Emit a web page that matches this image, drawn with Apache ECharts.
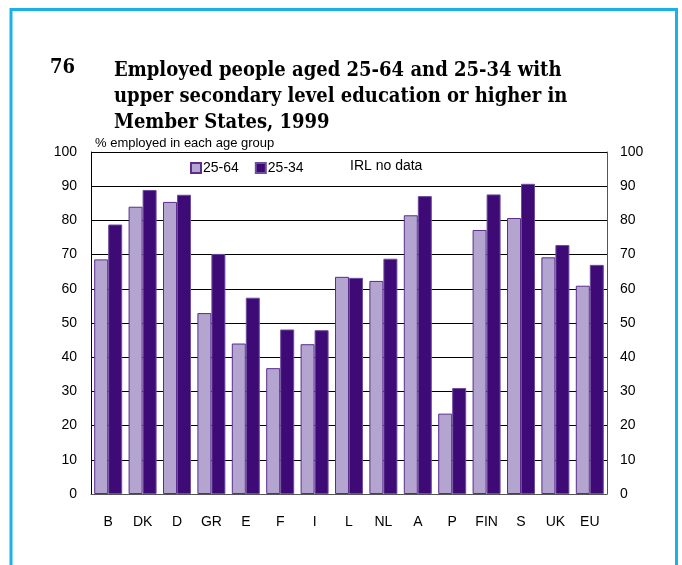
<!DOCTYPE html>
<html>
<head>
<meta charset="utf-8">
<script src="https://cdn.jsdelivr.net/npm/echarts@6/dist/echarts.min.js"></script>
<style>
html,body{margin:0;padding:0;background:#fff;}
#chart{width:682px;height:565px;}
</style>
</head>
<body>
<div id="chart"></div>
<script>
const categories = ['B','DK','D','GR','E','F','I','L','NL','A','P','FIN','S','UK','EU'];
const age2564 = [68.6, 84.0, 85.4, 52.9, 44.0, 36.8, 43.8, 63.5, 62.3, 81.5, 23.5, 77.2, 80.7, 69.2, 60.9];
const age2534 = [78.8, 88.9, 87.5, 70.2, 57.4, 48.1, 47.9, 63.2, 68.8, 87.1, 31.0, 87.6, 90.7, 72.8, 67.0];
const seriesNames = ['25-64', '25-34'];
const yTicks = {min: 0, max: 100, interval: 10};

const chart = echarts.init(document.getElementById('chart'), null, {renderer: 'canvas'});
const labelFont = {fontFamily: 'Liberation Sans, Arial, sans-serif', fontSize: 14, color: '#000'};

chart.setOption({
  animation: false,
  backgroundColor: '#fff',
  title: [
    {text: '76', left: 45, top: 53,
     textStyle: {fontFamily: 'DejaVu Serif Condensed, DejaVu Serif, serif', fontWeight: 'bold', fontSize: 20, color: '#000'}},
    {text: 'Employed people aged 25-64 and 25-34 with\nupper secondary level education or higher in\nMember States, 1999',
     left: 109, top: 53,
     textStyle: {fontFamily: 'DejaVu Serif Condensed, DejaVu Serif, serif', fontWeight: 'bold', fontSize: 20, lineHeight: 26, color: '#000'}}
  ],
  graphic: [
    {type: 'rect', shape: {x: 11, y: 9.5, width: 665.5, height: 600},
     style: {fill: 'none', stroke: '#1ab0e8', lineWidth: 3}, silent: true},
    {type: 'text', left: 95, top: 137,
     style: {text: '% employed in each age group', fontFamily: 'Liberation Sans, Arial, sans-serif', fontSize: 13, fill: '#000'}},
    {type: 'text', left: 350, top: 159,
     style: {text: 'IRL no data', fontFamily: 'Liberation Sans, Arial, sans-serif', fontSize: 14, fill: '#000'}}
  ],
  legend: {
    data: seriesNames,
    left: 185, top: 156,
    icon: 'rect', itemWidth: 10, itemHeight: 10, itemGap: 16,
    textStyle: {fontFamily: 'Liberation Sans, Arial, sans-serif', fontSize: 14, color: '#000', padding: [0,0,0,-3]}
  },
  grid: {left: 91, right: 75, top: 152, bottom: 71, containLabel: false},
  xAxis: {
    type: 'category', data: categories,
    axisLine: {lineStyle: {color: '#555', width: 1}},
    axisTick: {show: false},
    axisLabel: Object.assign({margin: 21}, labelFont)
  },
  yAxis: [
    {type: 'value', min: yTicks.min, max: yTicks.max, interval: yTicks.interval, position: 'left',
     axisLine: {show: true, lineStyle: {color: '#000'}},
     axisTick: {show: false},
     splitLine: {show: true, lineStyle: {color: '#000', width: 1}},
     axisLabel: Object.assign({margin: 14}, labelFont)},
    {type: 'value', min: yTicks.min, max: yTicks.max, interval: yTicks.interval, position: 'right',
     axisLine: {show: true, lineStyle: {color: '#555'}},
     axisTick: {show: false},
     splitLine: {show: false},
     axisLabel: Object.assign({margin: 13}, labelFont)}
  ],
  series: [
    {name: seriesNames[0], type: 'bar', data: age2564, barWidth: 14, barGap: '0%',
     itemStyle: {color: '#b3a5cf', borderColor: '#5a2d8e', borderWidth: 1}},
    {name: seriesNames[1], type: 'bar', data: age2534, barWidth: 14, barGap: '0%',
     itemStyle: {color: '#3e0b76', borderColor: '#6c4d9e', borderWidth: 1}}
  ]
});
</script>
</body>
</html>
